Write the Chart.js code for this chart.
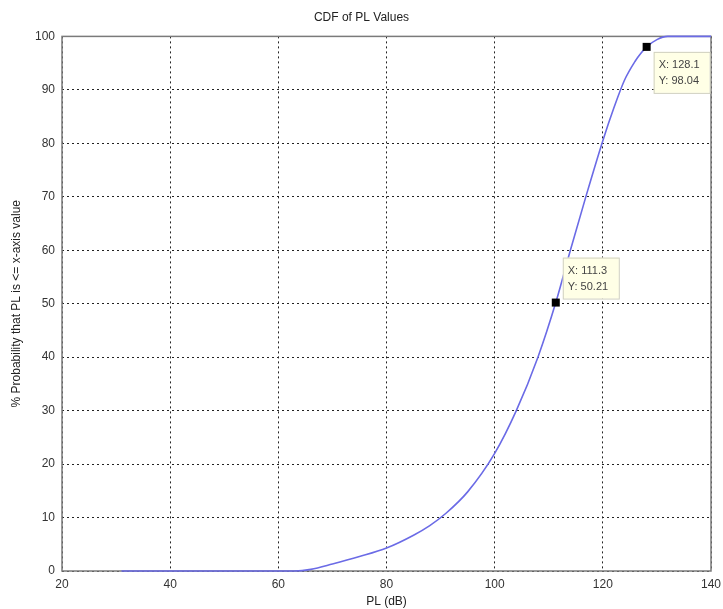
<!DOCTYPE html>
<html lang="en">
<head>
  <meta charset="UTF-8" />
  <title>CDF of PL Values</title>
  <script src="https://cdn.jsdelivr.net/npm/chart.js"></script>
  <style>
    body { margin: 0; background: #fff; }
    #wrap { width: 723px; height: 609px; }
  </style>
</head>
<body>
  <div id="wrap"><canvas id="cdf" width="723" height="609"></canvas></div>
  <script>
    // curve
    const plValues = [31, 40, 50, 60, 63, 66, 70, 75, 80, 85, 88, 91, 95, 100, 104, 108, 111.3, 114, 117, 120, 122, 124, 126, 127, 128.1, 130, 132, 136, 140];
    const cdfValues = [0, 0, 0, 0, 0, 0.3, 1.3, 2.7, 4.3, 6.7, 8.5, 10.8, 14.8, 22, 30, 40, 50.21, 60, 70.5, 80.5, 86.5, 91.8, 95.4, 96.8, 98.04, 99.4, 100, 100, 100];

    // data tips shown on the figure
    const tipX = [111.3, 128.1];
    const tipY = [50.21, 98.04];

    const xTicks = [20, 40, 60, 80, 100, 120, 140];
    const yTicks = [0, 10, 20, 30, 40, 50, 60, 70, 80, 90, 100];

    const font = { family: "'Liberation Sans', Arial, sans-serif", size: 12 };

    // full axes box like matlab, under the curve
    const boxPlugin = {
      id: "box",
      beforeDatasetsDraw(chart) {
        const a = chart.chartArea, ctx = chart.ctx;
        ctx.save();
        ctx.strokeStyle = "#7a7a7a";
        ctx.lineWidth = 1.5;
        ctx.strokeRect(a.left, a.top, a.right - a.left, a.bottom - a.top);
        ctx.restore();
      }
    };

    const tipPlugin = {
      id: "tips",
      afterDraw(chart) {
        const ctx = chart.ctx;
        const xs = chart.scales.x, ys = chart.scales.y;
        ctx.save();
        tipX.forEach((xv, i) => {
          const px = xs.getPixelForValue(xv);
          const py = ys.getPixelForValue(tipY[i]);
          const bx = px + 7;
          const top = i === 1 ? py + 5 : py - 45;
          ctx.fillStyle = "#ffffe6";
          ctx.strokeStyle = "#d0d0c0";
          ctx.lineWidth = 1;
          ctx.fillRect(bx, top, 56, 41);
          ctx.strokeRect(bx + 0.5, top + 0.5, 56, 41);
          ctx.fillStyle = "#444";
          ctx.font = "11px " + font.family;
          ctx.textBaseline = "middle";
          ctx.fillText("X: " + xv, bx + 5, top + 13);
          ctx.fillText("Y: " + tipY[i], bx + 5, top + 29);
          ctx.fillStyle = "#000";
          ctx.fillRect(px - 4, py - 4, 8, 8);
        });
        ctx.restore();
      }
    };

    new Chart(document.getElementById("cdf"), {
      type: "line",
      data: {
        datasets: [{
          data: plValues.map((x, i) => ({ x: x, y: cdfValues[i] })),
          borderColor: "#6b6be6",
          borderWidth: 1.6,
          pointRadius: 0,
          cubicInterpolationMode: "monotone",
          fill: false,
          clip: 2
        }]
      },
      options: {
        responsive: false,
        animation: false,
        layout: { padding: { left: 0, right: 0, top: 0, bottom: 0 } },
        plugins: {
          legend: { display: false },
          tooltip: { enabled: false },
          title: {
            display: true,
            text: "CDF of PL Values",
            color: "#222",
            font: { family: font.family, size: 12, weight: "normal" },
            padding: { top: 10, bottom: 12 }
          }
        },
        scales: {
          x: {
            type: "linear",
            min: 20,
            max: 140,
            afterBuildTicks: s => { s.ticks = xTicks.map(v => ({ value: v })); },
            afterFit: s => { s.height = 38; s.paddingRight = 12; },
            ticks: { color: "#333", font: font, padding: 6 },
            grid: { color: "#222", lineWidth: 1, drawTicks: false },
            border: { display: false, dash: [2, 3] },
            title: { display: true, text: "PL (dB)", color: "#222", font: font, padding: { top: 0, bottom: 0 } }
          },
          y: {
            min: 0,
            max: 100,
            afterBuildTicks: s => { s.ticks = yTicks.map(v => ({ value: v })); },
            afterFit: s => { s.width = 62; },
            ticks: { color: "#333", font: font, padding: 7 },
            grid: { color: "#222", lineWidth: 1, drawTicks: false },
            border: { display: false, dash: [2, 3] },
            title: { display: true, text: "% Probability that PL is <= x-axis value", color: "#222", font: font, padding: { top: 9, bottom: 0 } }
          }
        }
      },
      plugins: [boxPlugin, tipPlugin]
    });
  </script>
</body>
</html>
